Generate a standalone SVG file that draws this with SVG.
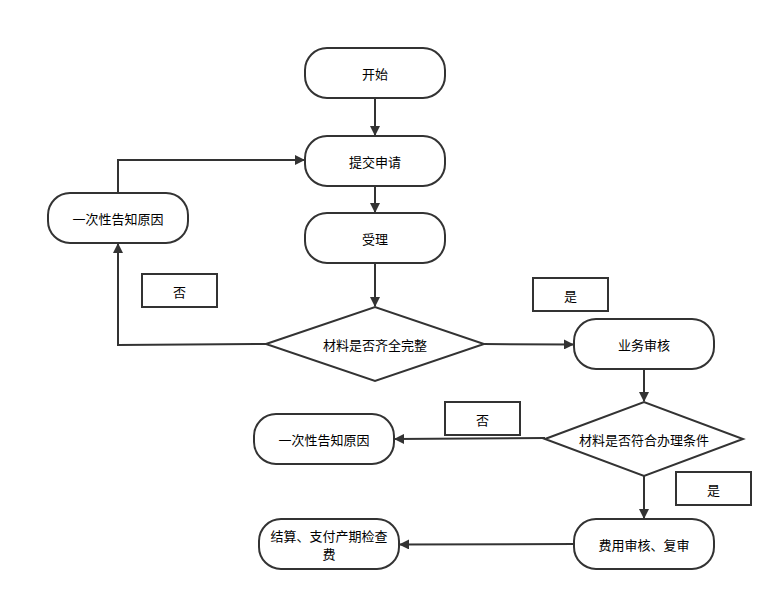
<svg xmlns="http://www.w3.org/2000/svg" width="783" height="601" viewBox="0 0 783 601">
<style>
.n{fill:#fff;stroke:#333;stroke-width:2}
.b{fill:#fff;stroke:#333;stroke-width:2}
text{font-family:"Noto Sans CJK SC","Liberation Sans",sans-serif;font-size:13px;fill:#000;text-anchor:middle;dominant-baseline:central}
.c{fill:none;stroke:#333;stroke-width:2;marker-end:url(#a)}
</style>
<defs><marker id="a" viewBox="0 0 10 10" refX="9" refY="5" markerWidth="5" markerHeight="5" orient="auto" markerUnits="strokeWidth"><path d="M0,0L10,5L0,10z" fill="#333"/></marker></defs>
<rect width="783" height="601" fill="#fff"/>
<g id="connectors">
<path class="c" d="M375,98V135"/>
<path class="c" d="M375,186V212"/>
<path class="c" d="M375,263V306"/>
<path class="c" d="M266,344L118,345V244"/>
<path class="c" d="M118,193V160H304"/>
<path class="c" d="M484,344L573,344.5"/>
<path class="c" d="M644,369V401"/>
<path class="c" d="M545,438L395,439"/>
<path class="c" d="M644,476V518"/>
<path class="c" d="M574,544L400,544.5"/>
</g>
<g id="start"><rect class="n" x="305" y="48" width="140" height="50" rx="22"/><text x="375" y="73">开始</text></g>
<g id="submit"><rect class="n" x="305" y="136" width="140" height="50" rx="22"/><text x="375" y="161">提交申请</text></g>
<g id="accept"><rect class="n" x="305" y="213" width="140" height="50" rx="22"/><text x="375" y="238">受理</text></g>
<g id="d1"><polygon class="n" points="266,344 375,307 484,344 375,381"/><text x="375" y="344">材料是否齐全完整</text></g>
<g id="inform1"><rect class="n" x="48" y="193" width="140" height="50" rx="22"/><text x="118" y="218">一次性告知原因</text></g>
<g id="no1"><rect class="b" x="142" y="274" width="75" height="33"/><text x="179.5" y="291">否</text></g>
<g id="yes1"><rect class="b" x="533" y="278" width="75" height="33"/><text x="570.5" y="295">是</text></g>
<g id="review"><rect class="n" x="574" y="319" width="140" height="50" rx="22"/><text x="644" y="344">业务审核</text></g>
<g id="d2"><polygon class="n" points="545,439 644,402 743,439 644,476"/><text x="644" y="439">材料是否符合办理条件</text></g>
<g id="inform2"><rect class="n" x="254" y="414" width="140" height="50" rx="22"/><text x="324" y="439">一次性告知原因</text></g>
<g id="no2"><rect class="b" x="445" y="402" width="75" height="33"/><text x="482.5" y="419">否</text></g>
<g id="yes2"><rect class="b" x="676" y="472" width="75" height="33"/><text x="713.5" y="489">是</text></g>
<g id="fee"><rect class="n" x="574" y="519" width="140" height="50" rx="22"/><text x="644" y="544">费用审核、复审</text></g>
<g id="settle"><rect class="n" x="259" y="519" width="140" height="50" rx="22"/><text x="329" y="535">结算、支付产期检查</text><text x="329" y="553">费</text></g>
</svg>
